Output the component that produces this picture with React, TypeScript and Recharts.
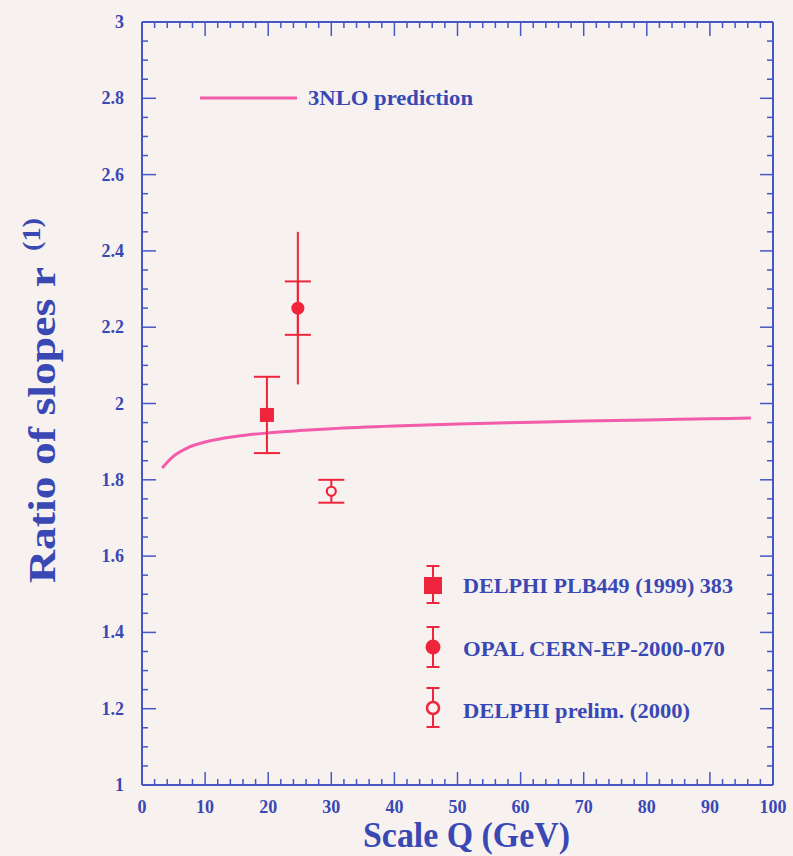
import React from 'react';
import { ComposedChart, Line, Scatter, ErrorBar, XAxis, YAxis } from 'recharts';

// ---- data ----
const curveQ = [3.2, 5, 7.5, 10, 15, 20, 25, 30, 40, 50, 60, 70, 80, 90, 96.5];
const curveR = [1.831, 1.862, 1.886, 1.899, 1.914, 1.923, 1.929, 1.934, 1.941, 1.946, 1.95, 1.954, 1.957, 1.96, 1.962];

const delphiQ = [19.8];
const delphiR = [1.97];
const delphiErr = [0.1];

const opalQ = [24.7];
const opalR = [2.25];
const opalStat = [0.07];
const opalTot = [0.2];

const prelimQ = [30.0];
const prelimR = [1.77];
const prelimErr = [0.03];

const xMajorTicks = [0, 10, 20, 30, 40, 50, 60, 70, 80, 90, 100];
const yMajorTicks = [1, 1.2, 1.4, 1.6, 1.8, 2, 2.2, 2.4, 2.6, 2.8, 3];
const xAllTicks = Array.from({ length: 51 }, (_, i) => i * 2);
const yAllTicks = Array.from({ length: 41 }, (_, i) => +(1 + i * 0.05).toFixed(2));

const legendCurve = '3NLO prediction';
const legendDelphi = 'DELPHI PLB449 (1999) 383';
const legendOpal = 'OPAL CERN-EP-2000-070';
const legendPrelim = 'DELPHI prelim. (2000)';
const xTitle = 'Scale Q (GeV)';
const yTitle = 'Ratio of slopes r';
const ySup = '(1)';

// ---- tables built from arrays ----
const curveData = curveQ.map((q, i) => ({ q, r: curveR[i] }));
const delphiData = delphiQ.map((q, i) => ({ q, r: delphiR[i], err: delphiErr[i] }));
const opalData = opalQ.map((q, i) => ({ q, r: opalR[i], stat: opalStat[i], tot: opalTot[i] }));
const prelimData = prelimQ.map((q, i) => ({ q, r: prelimR[i], err: prelimErr[i] }));

// ---- styles ----
const BG = '#f7f2ef';
const BLUE = '#4656c4';
const TXT = '#3a48b4';
const RED = '#f0243c';
const PINK = '#f35bab';
const FONT = "'Liberation Serif', 'Times New Roman', serif";

const isXMajor = (v: number) => xMajorTicks.some((t) => Math.abs(t - v) < 1e-6);
const isYMajor = (v: number) => yMajorTicks.some((t) => Math.abs(t - v) < 1e-6);

const XTickBottom = (props: any) => {
  const { x, y, payload } = props;
  const v = payload.value;
  const major = isXMajor(v);
  return (
    <g>
      <line x1={x} x2={x} y1={y} y2={y - (major ? 13 : 6)} stroke={BLUE} strokeWidth={1.5} />
      {major && (
        <text x={x} y={y + 28} textAnchor="middle" fontFamily={FONT} fontWeight="bold" fontSize={18} fill={TXT}>
          {v}
        </text>
      )}
    </g>
  );
};

const XTickTop = (props: any) => {
  const { x, y, payload } = props;
  const major = isXMajor(payload.value);
  return <line x1={x} x2={x} y1={y} y2={y + (major ? 14 : 6)} stroke={BLUE} strokeWidth={1.5} />;
};

const YTickLeft = (props: any) => {
  const { x, y, payload } = props;
  const v = payload.value;
  const major = isYMajor(v);
  return (
    <g>
      <line x1={x} x2={x + (major ? 14 : 6)} y1={y} y2={y} stroke={BLUE} strokeWidth={1.5} />
      {major && (
        <text x={x - 18} y={y + 6} textAnchor="end" fontFamily={FONT} fontWeight="bold" fontSize={18} fill={TXT}>
          {v}
        </text>
      )}
    </g>
  );
};

const YTickRight = (props: any) => {
  const { x, y, payload } = props;
  const major = isYMajor(payload.value);
  return <line x1={x} x2={x - (major ? 13 : 6)} y1={y} y2={y} stroke={BLUE} strokeWidth={1.5} />;
};

const SquareShape = (props: any) => {
  const { cx, cy } = props;
  return <rect x={cx - 7} y={cy - 7} width={14} height={14} fill={RED} />;
};
const DotShape = (props: any) => {
  const { cx, cy } = props;
  return <circle cx={cx} cy={cy} r={6.5} fill={RED} />;
};
const OpenShape = (props: any) => {
  const { cx, cy } = props;
  return <circle cx={cx} cy={cy} r={4.5} fill={BG} stroke={RED} strokeWidth={2.2} />;
};

const XTitle = (props: any) => {
  const { viewBox } = props;
  const cx = viewBox.x + viewBox.width / 2 + 9;
  return (
    <text x={cx} y={847} textAnchor="middle" fontFamily={FONT} fontWeight="bold" fontSize={35} fill={TXT}
      textLength={207} lengthAdjust="spacingAndGlyphs">
      {xTitle}
    </text>
  );
};

const YTitle = () => (
  <g>
    <text transform="translate(55,583) rotate(-90)" fontFamily={FONT} fontWeight="bold" fontSize={38} fill={TXT}
      textLength={316} lengthAdjust="spacingAndGlyphs">
      {yTitle}
    </text>
    <text transform="translate(40,251) rotate(-90)" fontFamily={FONT} fontWeight="bold" fontSize={26} fill={TXT}
      textLength={33} lengthAdjust="spacingAndGlyphs">
      {ySup}
    </text>
  </g>
);

const LegendText = ({ x, y, w, children }: any) => (
  <text x={x} y={y} fontFamily={FONT} fontWeight="bold" fontSize={21} fill={TXT} textLength={w} lengthAdjust="spacingAndGlyphs">
    {children}
  </text>
);

const Cap = ({ cx, y }: any) => <line x1={cx - 6.5} x2={cx + 6.5} y1={y} y2={y} stroke={RED} strokeWidth={2} />;

const LegendOverlay = () => (
  <svg width={793} height={856} style={{ position: 'absolute', left: 0, top: 0, pointerEvents: 'none' }}>
    <line x1={200} x2={297} y1={98} y2={98} stroke={PINK} strokeWidth={3} />
    <LegendText x={308} y={105} w={165}>{legendCurve}</LegendText>

    <line x1={433} x2={433} y1={566} y2={603} stroke={RED} strokeWidth={2} />
    <Cap cx={433} y={566} />
    <Cap cx={433} y={603} />
    <rect x={424} y={577} width={18} height={17} fill={RED} />
    <LegendText x={463} y={593} w={270}>{legendDelphi}</LegendText>

    <line x1={433} x2={433} y1={627} y2={667} stroke={RED} strokeWidth={2} />
    <Cap cx={433} y={627} />
    <Cap cx={433} y={667} />
    <circle cx={433} cy={647} r={7.5} fill={RED} />
    <LegendText x={463} y={656} w={262}>{legendOpal}</LegendText>

    <line x1={433} x2={433} y1={688} y2={727} stroke={RED} strokeWidth={2} />
    <Cap cx={433} y={688} />
    <Cap cx={433} y={727} />
    <circle cx={433} cy={708} r={6} fill={BG} stroke={RED} strokeWidth={2.5} />
    <LegendText x={463} y={718} w={227}>{legendPrelim}</LegendText>
  </svg>
);

export default function App() {
  return (
    <div style={{ position: 'absolute', left: 0, top: 0, width: 793, height: 856, background: BG }}>
      <ComposedChart width={793} height={856} margin={{ top: 21, right: 19, bottom: 0, left: 82 }}>
        <XAxis xAxisId="b" orientation="bottom" type="number" dataKey="q" domain={[0, 100]} ticks={xAllTicks}
          interval={0} height={71} tickSize={0} tickMargin={0} tick={<XTickBottom />}
          axisLine={{ stroke: BLUE, strokeWidth: 2 }} label={<XTitle />} allowDataOverflow />
        <XAxis xAxisId="t" orientation="top" type="number" dataKey="q" domain={[0, 100]} ticks={xAllTicks}
          interval={0} height={1} tickSize={0} tickMargin={0} tick={<XTickTop />}
          axisLine={{ stroke: BLUE, strokeWidth: 2 }} allowDataOverflow />
        <YAxis yAxisId="l" orientation="left" type="number" domain={[1, 3]} ticks={yAllTicks} interval={0}
          width={60} tickSize={0} tickMargin={0} tick={<YTickLeft />}
          axisLine={{ stroke: BLUE, strokeWidth: 2 }} label={<YTitle />} allowDataOverflow />
        <YAxis yAxisId="r" orientation="right" type="number" domain={[1, 3]} ticks={yAllTicks} interval={0}
          width={1} tickSize={0} tickMargin={0} tick={<YTickRight />}
          axisLine={{ stroke: BLUE, strokeWidth: 2 }} allowDataOverflow />

        <Line xAxisId="t" yAxisId="r" data={curveData} dataKey="r" type="monotone" stroke={PINK} strokeWidth={3}
          dot={false} isAnimationActive={false} />

        <Scatter xAxisId="b" yAxisId="l" data={delphiData} dataKey="r" shape={<SquareShape />} isAnimationActive={false}>
          <ErrorBar dataKey="err" direction="y" width={13} stroke={RED} strokeWidth={2} />
        </Scatter>
        <Scatter xAxisId="b" yAxisId="l" data={opalData} dataKey="r" shape={<DotShape />} isAnimationActive={false}>
          <ErrorBar dataKey="tot" direction="y" width={0} stroke={RED} strokeWidth={2} />
          <ErrorBar dataKey="stat" direction="y" width={13} stroke={RED} strokeWidth={2} />
        </Scatter>
        <Scatter xAxisId="b" yAxisId="l" data={prelimData} dataKey="r" shape={<OpenShape />} isAnimationActive={false}>
          <ErrorBar dataKey="err" direction="y" width={13} stroke={RED} strokeWidth={2} />
        </Scatter>
      </ComposedChart>
      <LegendOverlay />
    </div>
  );
}
